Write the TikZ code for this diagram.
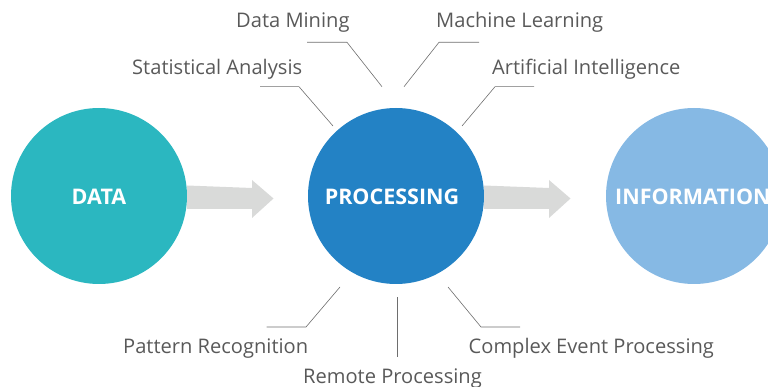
\documentclass[tikz,border=0pt]{standalone}
\usepackage{fontspec}
\setmainfont{Open Sans}
\usetikzlibrary{calc}
\definecolor{cdata}{RGB}{43,183,192}
\definecolor{cproc}{RGB}{35,130,197}
\definecolor{cinfo}{RGB}{134,185,228}
\definecolor{carrow}{RGB}{217,218,217}
\definecolor{ctext}{RGB}{89,89,89}
\definecolor{cline}{RGB}{110,110,110}
\tikzset{
  bubble/.style={circle, minimum size=176pt, inner sep=0pt},
  bubbletext/.style={text=white, inner sep=0pt, font=\fontsize{21.5}{25}\selectfont\bfseries},
  lbl/.style={text=ctext, inner sep=0pt, font=\fontsize{20.1}{24}\selectfont},
  leader/.style={draw=cline, line width=0.6pt},
  blockarrow/.style={fill=carrow}
}
\begin{document}
\begin{tikzpicture}[x=1pt,y=-1pt]
\useasboundingbox (0,0) rectangle (768,387);
% circles
\node[bubble, fill=cdata] (data) at (99,196) {};
\node[bubble, fill=cproc] (proc) at (396,196) {};
\node[bubble, fill=cinfo] (info) at (694,196) {};
\node[bubbletext, anchor=center] (tdata) at (99,197) {DATA};
\node[bubbletext, anchor=center] (tproc) at (392,197) {PROCESSING};
\node[bubbletext, anchor=west] (tinfo) at (615,197) {INFORMATION};
% block arrows
\coordinate (a1s) at (data.east);
\fill[blockarrow] ($(a1s)+(0,-10.5)$) -- (252,188) -- (252,180) -- (273.5,198.5) -- (252,218) -- (252,209) -- ($(a1s)+(0,13)$) -- cycle;
\coordinate (a2s) at (proc.east);
\fill[blockarrow] ($(a2s)+(0,-10.5)$) -- (549,188) -- (549,180) -- (570.5,198.5) -- (549,218) -- (549,209) -- ($(a2s)+(0,13)$) -- cycle;
% labels
\node[lbl, anchor=base west] (dm) at (236,28) {Data Mining};
\node[lbl, anchor=base west] (ml) at (436,28) {Machine Learning};
\node[lbl, anchor=base west] (sa) at (132,75) {Statistical Analysis};
\node[lbl, anchor=base west] (ai) at (492,75) {Artificial Intelligence};
\node[lbl, anchor=base west] (pr) at (123,353) {Pattern Recognition};
\node[lbl, anchor=base west] (rp) at (303,383) {Remote Processing};
\node[lbl, anchor=base west] (cep) at (468.5,353) {Complex Event Processing};
% leader lines
\coordinate (sa1) at (333,126); \coordinate (sa2) at (299,86.7); \coordinate (sa3) at (260,86.7);
\coordinate (dm1) at (382,86.7); \coordinate (dm2) at (347,42.3); \coordinate (dm3) at (307,42.3);
\coordinate (ml1) at (404,86.7); \coordinate (ml2) at (439,42.3); \coordinate (ml3) at (479,42.3);
\coordinate (ai1) at (462,126); \coordinate (ai2) at (495,86.7); \coordinate (ai3) at (534,86.7);
\coordinate (pr1) at (340,287); \coordinate (pr2) at (306,327); \coordinate (pr3) at (266.5,327);
\coordinate (rp1) at (397,297); \coordinate (rp2) at (397,357);
\coordinate (ce1) at (448,287); \coordinate (ce2) at (481,327); \coordinate (ce3) at (520,327);
\draw[leader] (sa1) -- (sa2) -- (sa3);
\draw[leader] (dm1) -- (dm2) -- (dm3);
\draw[leader] (ml1) -- (ml2) -- (ml3);
\draw[leader] (ai1) -- (ai2) -- (ai3);
\draw[leader] (pr1) -- (pr2) -- (pr3);
\draw[leader] (rp1) -- (rp2);
\draw[leader] (ce1) -- (ce2) -- (ce3);
\end{tikzpicture}
\end{document}
